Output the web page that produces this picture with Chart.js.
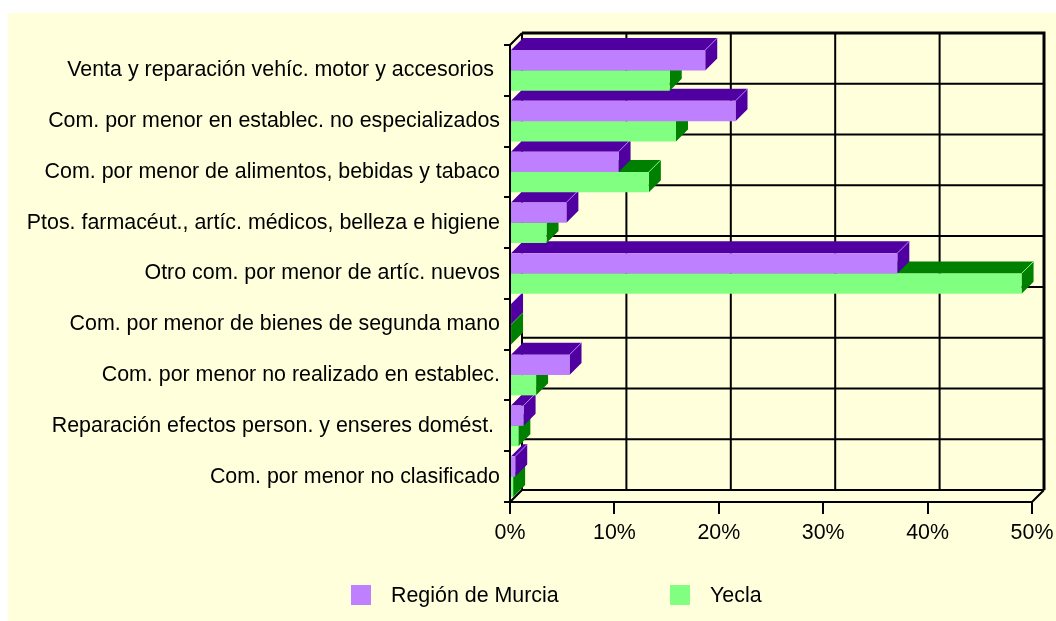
<!DOCTYPE html>
<html>
<head>
<meta charset="utf-8">
<script src="https://cdn.jsdelivr.net/npm/chart.js@4"></script>
<style>
  html, body { margin: 0; padding: 0; background: #ffffff; }
  #wrap { position: absolute; left: 8px; top: 13px; width: 1048px; height: 608px; background: #ffffdc; }
</style>
</head>
<body>
<div id="wrap"><canvas id="chart" width="1048" height="608"></canvas></div>
<script>
// Comercio al por menor: distribución por actividad (%)
const categories = [
    'Venta y reparación vehíc. motor y accesorios ',
    'Com. por menor en establec. no especializados',
    'Com. por menor de alimentos, bebidas y tabaco',
    'Ptos. farmacéut., artíc. médicos, belleza e higiene',
    'Otro com. por menor de artíc. nuevos',
    'Com. por menor de bienes de segunda mano',
    'Com. por menor no realizado en establec.',
    'Reparación efectos person. y enseres domést. ',
    'Com. por menor no clasificado'
];
const seriesNames = ['Región de Murcia', 'Yecla'];
const murciaValues = [18.7, 21.6, 10.4, 5.4, 37.1, 0.1, 5.7, 1.3, 0.5];
const yeclaValues = [15.3, 15.9, 13.3, 3.5, 49.0, 0.1, 2.5, 0.8, 0.3];
const xTicks = [0, 10, 20, 30, 40, 50];

const faceColors = ['#bf80ff', '#80ff80'];
const sideColors = ['#5000a0', '#008000'];
const DEPTH = 12;
const FONT = "'Liberation Sans', Arial, sans-serif";
const FONT_SIZE = 21.4;

// Back wall, floor and 3D faces of the bars
const depthPlugin = {
    id: 'depth3d',
    beforeDatasetsDraw(chart) {
        const ctx = chart.ctx;
        const area = chart.chartArea;
        const xs = chart.scales.x;
        const ys = chart.scales.y;
        const d = DEPTH;

        ctx.save();
        ctx.strokeStyle = '#000';
        ctx.lineWidth = 2;
        ctx.beginPath();
        // vertical grid lines on the back wall
        xTicks.forEach(v => {
            const px = xs.getPixelForValue(v) + d;
            ctx.moveTo(px, area.top - d);
            ctx.lineTo(px, area.bottom - d);
        });
        // horizontal lines between categories on the back wall
        for (let i = 0; i <= categories.length; i++) {
            const py = ys.getPixelForValue(i - 0.5) - d;
            ctx.moveTo(area.left + d, py);
            ctx.lineTo(area.right + d, py);
        }
        // left wall / floor edges
        ctx.moveTo(area.left, area.top);
        ctx.lineTo(area.left + d, area.top - d);
        ctx.moveTo(area.left, area.bottom);
        ctx.lineTo(area.left + d, area.bottom - d);
        ctx.moveTo(area.right, area.bottom);
        ctx.lineTo(area.right + d, area.bottom - d);
        ctx.stroke();

        // outer frame of the back wall a bit heavier
        ctx.lineWidth = 3;
        ctx.beginPath();
        ctx.moveTo(area.left + d, area.top - d);
        ctx.lineTo(area.right + d, area.top - d);
        ctx.lineTo(area.right + d, area.bottom - d);
        ctx.stroke();

        // top and side faces: bottom category first, lower bar before upper bar
        for (let i = categories.length - 1; i >= 0; i--) {
            for (let ds = chart.data.datasets.length - 1; ds >= 0; ds--) {
                const bar = chart.getDatasetMeta(ds).data[i];
                const p = bar.getProps(['x', 'y', 'base', 'height'], true);
                const top = p.y - p.height / 2;
                const bot = p.y + p.height / 2;
                ctx.fillStyle = sideColors[ds];
                ctx.beginPath();
                ctx.moveTo(p.base, top);
                ctx.lineTo(p.base + d, top - d);
                ctx.lineTo(p.x + d, top - d);
                ctx.lineTo(p.x + d, bot - d);
                ctx.lineTo(p.x, bot);
                ctx.lineTo(p.x, top);
                ctx.closePath();
                ctx.fill();
                ctx.strokeStyle = faceColors[ds];
                ctx.lineWidth = 1;
                ctx.beginPath();
                ctx.moveTo(p.x, top);
                ctx.lineTo(p.x + d, top - d);
                ctx.stroke();
            }
        }
        ctx.restore();
    },
    afterDraw(chart) {
        // legend at the bottom
        const ctx = chart.ctx;
        const items = [
            { box: 343, text: 383 },
            { box: 662, text: 702 }
        ];
        ctx.save();
        ctx.font = FONT_SIZE + 'px ' + FONT;
        ctx.textBaseline = 'middle';
        ctx.textAlign = 'left';
        chart.data.datasets.forEach((ds, i) => {
            ctx.fillStyle = ds.backgroundColor;
            ctx.fillRect(items[i].box, 572, 20, 20);
            ctx.fillStyle = '#000';
            ctx.fillText(ds.label, items[i].text, 583);
        });
        ctx.restore();
    }
};

new Chart(document.getElementById('chart'), {
    type: 'bar',
    data: {
        labels: categories,
        datasets: [
            { label: seriesNames[0], data: murciaValues, backgroundColor: faceColors[0], borderWidth: 0 },
            { label: seriesNames[1], data: yeclaValues, backgroundColor: faceColors[1], borderWidth: 0 }
        ]
    },
    options: {
        indexAxis: 'y',
        responsive: false,
        animation: false,
        layout: { padding: { left: 0, right: 24, top: 32, bottom: 0 } },
        datasets: { bar: { categoryPercentage: 0.8, barPercentage: 1.0 } },
        plugins: {
            legend: { display: false },
            tooltip: { enabled: false }
        },
        scales: {
            x: {
                min: 0,
                max: 50,
                afterFit: scale => {
                    scale.height = 119;
                    scale.paddingLeft = 0;
                    scale.paddingRight = 0;
                },
                afterBuildTicks: scale => { scale.ticks = xTicks.map(v => ({ value: v })); },
                grid: { drawOnChartArea: false, color: '#000', lineWidth: 2, tickLength: 12 },
                border: { display: true, color: '#000', width: 2 },
                ticks: {
                    color: '#000',
                    padding: 6,
                    font: { family: FONT, size: FONT_SIZE },
                    callback: v => v + '%'
                }
            },
            y: {
                afterFit: scale => { scale.width = 502; },
                grid: { drawOnChartArea: false, color: '#000', lineWidth: 2, tickLength: 6, offset: true },
                border: { display: true, color: '#000', width: 2 },
                ticks: {
                    color: '#000',
                    padding: 4,
                    autoSkip: false,
                    font: { family: FONT, size: FONT_SIZE }
                }
            }
        }
    },
    plugins: [depthPlugin]
});
</script>
</body>
</html>
